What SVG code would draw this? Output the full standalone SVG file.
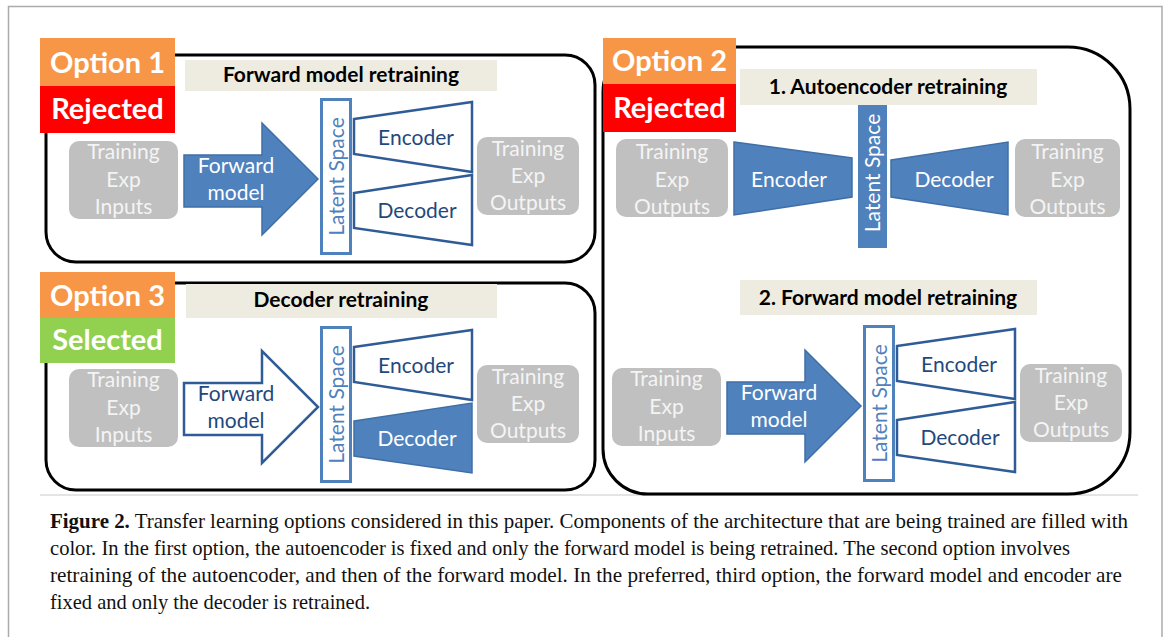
<svg xmlns="http://www.w3.org/2000/svg" width="1168" height="637" viewBox="0 0 1168 637">
<style>
.frame{fill:#fff;stroke:#ababab;stroke-width:1.5}
.panel{fill:none;stroke:#000;stroke-width:3}
.banner{fill:#EEECE1}
.btxt{font-family:Lato,"Liberation Sans",sans-serif;font-weight:bold;font-size:21px;fill:#000;text-anchor:middle}
.lab{font-family:Lato,"Liberation Sans",sans-serif;font-weight:bold;font-size:29px;fill:#fff;text-anchor:middle}
.gray{fill:#C0C0C0}
.gtxt{font-family:Lato,"Liberation Sans",sans-serif;font-size:21px;fill:#F4F4F4;text-anchor:middle}
.fill{fill:#4F81BD;stroke:#3F6FA6;stroke-width:1.5}
.wtxt{font-family:Lato,"Liberation Sans",sans-serif;font-size:21px;fill:#fff;text-anchor:middle}
.outl{fill:#fff;stroke:#2F5C97;stroke-width:2.5}
.ltbox{fill:#fff;stroke:#4F81BD;stroke-width:3}
.dtxt{font-family:Lato,"Liberation Sans",sans-serif;font-size:21px;fill:#1F497D;text-anchor:middle}
.ltxt{font-family:Lato,"Liberation Sans",sans-serif;font-size:21px;fill:#4F81BD;text-anchor:middle}
.cap{font-family:"Liberation Serif","Times New Roman",serif;font-size:21px;fill:#111}
</style>
<rect class="frame" x="8.5" y="6.5" width="1153.5" height="640"/>
<line x1="40" y1="495" x2="1138" y2="495" stroke="#e4e4e4" stroke-width="2"/>

<!-- Option 1 panel -->
<g id="opt1-panel"><rect class="panel" x="46" y="55" width="549" height="207" rx="30"/></g>
<g id="opt1-banner"><rect class="banner" x="185" y="60" width="312" height="31"/><text class="btxt" x="341" y="82">Forward model retraining</text></g>
<g id="opt1-inputs"><rect class="gray" x="69" y="141" width="109" height="78" rx="10"/>
<text class="gtxt" x="123.5" y="159">Training</text><text class="gtxt" x="123.5" y="186.5">Exp</text><text class="gtxt" x="123.5" y="213.5">Inputs</text></g>
<g id="opt1-forward"><polygon class="fill" points="184,155 262,155 262,123 318,179 262,235 262,207 184,207"/>
<text class="wtxt" x="236" y="173">Forward</text><text class="wtxt" x="236" y="200">model</text></g>
<g id="opt1-latent"><rect class="ltbox" x="321.5" y="99.5" width="29" height="154"/>
<text class="ltxt" transform="translate(343.5,176.5) rotate(-90)">Latent Space</text></g>
<g id="opt1-encoder"><polygon class="outl" points="354,119 472,102 472,172 354,154"/><text class="dtxt" x="416" y="145">Encoder</text></g>
<g id="opt1-decoder"><polygon class="outl" points="354,193 472,175 472,245 354,228"/><text class="dtxt" x="417" y="218">Decoder</text></g>
<g id="opt1-outputs"><rect class="gray" x="477" y="137" width="102" height="78" rx="10"/>
<text class="gtxt" x="528" y="156">Training</text><text class="gtxt" x="528" y="183">Exp</text><text class="gtxt" x="528" y="210">Outputs</text></g>
<g id="opt1-label"><rect x="40" y="38" width="135" height="48" fill="#F79646"/><text class="lab" x="107.5" y="73">Option 1</text>
<rect x="40" y="86" width="135" height="47" fill="#FF0000"/><text class="lab" x="107.5" y="119">Rejected</text></g>

<!-- Option 3 panel -->
<g id="opt3-panel"><rect class="panel" x="46" y="283" width="549" height="207" rx="30"/></g>
<g id="opt3-banner"><rect class="banner" x="186" y="284" width="311" height="34"/><text class="btxt" x="341" y="307">Decoder retraining</text></g>
<g id="opt3-inputs" transform="translate(0,228)"><rect class="gray" x="69" y="141" width="109" height="78" rx="10"/>
<text class="gtxt" x="123.5" y="159">Training</text><text class="gtxt" x="123.5" y="186.5">Exp</text><text class="gtxt" x="123.5" y="213.5">Inputs</text></g>
<g id="opt3-forward" transform="translate(0,228)"><polygon class="outl" points="184,155 262,155 262,123 318,179 262,235 262,207 184,207"/>
<text class="dtxt" x="236" y="173">Forward</text><text class="dtxt" x="236" y="200">model</text></g>
<g id="opt3-latent" transform="translate(0,228)"><rect class="ltbox" x="321.5" y="99.5" width="29" height="154"/>
<text class="ltxt" transform="translate(343.5,176.5) rotate(-90)">Latent Space</text></g>
<g id="opt3-encoder" transform="translate(0,228)"><polygon class="outl" points="354,119 472,102 472,172 354,154"/><text class="dtxt" x="416" y="145">Encoder</text></g>
<g id="opt3-decoder" transform="translate(0,228)"><polygon class="fill" points="354,193 472,175 472,245 354,228"/><text class="wtxt" x="417" y="218">Decoder</text></g>
<g id="opt3-outputs" transform="translate(0,228)"><rect class="gray" x="477" y="137" width="102" height="78" rx="10"/>
<text class="gtxt" x="528" y="156">Training</text><text class="gtxt" x="528" y="183">Exp</text><text class="gtxt" x="528" y="210">Outputs</text></g>
<g id="opt3-label"><rect x="40" y="272" width="135" height="46" fill="#F79646"/><text class="lab" x="107.5" y="306">Option 3</text>
<rect x="40" y="318" width="135" height="45" fill="#92D050"/><text class="lab" x="107.5" y="350">Selected</text></g>

<!-- Option 2 panel -->
<g id="opt2-panel"><path class="panel" d="M648 47 H1068 A62 62 0 0 1 1130 109 V432 A62 62 0 0 1 1068 494 H648 A45 45 0 0 1 603 449 V92 A45 45 0 0 1 648 47 Z"/></g>
<g id="opt2-banner1"><rect class="banner" x="740" y="69" width="297" height="36"/><text class="btxt" x="888" y="94">1. Autoencoder retraining</text></g>
<g id="opt2-outputs-in"><rect class="gray" x="616" y="139" width="112" height="78" rx="10"/>
<text class="gtxt" x="672" y="159">Training</text><text class="gtxt" x="672" y="186.5">Exp</text><text class="gtxt" x="672" y="214">Outputs</text></g>
<g id="opt2-encoder"><polygon class="fill" points="734,142 852,158 852,197 734,215"/><text class="wtxt" x="789" y="187">Encoder</text></g>
<g id="opt2-latent"><rect x="858" y="105" width="29" height="143" fill="#4F81BD"/>
<text class="wtxt" transform="translate(880,173) rotate(-90)">Latent Space</text></g>
<g id="opt2-decoder"><polygon class="fill" points="891,160 1008,142 1008,215 891,197"/><text class="wtxt" x="954" y="187">Decoder</text></g>
<g id="opt2-outputs"><rect class="gray" x="1015" y="139" width="105" height="78" rx="10"/>
<text class="gtxt" x="1067.5" y="159">Training</text><text class="gtxt" x="1067.5" y="186.5">Exp</text><text class="gtxt" x="1067.5" y="214">Outputs</text></g>
<g id="opt2-banner2"><rect class="banner" x="740" y="280" width="297" height="35"/><text class="btxt" x="888" y="305">2. Forward model retraining</text></g>
<g id="opt2-inputs" transform="translate(543,227)"><rect class="gray" x="69" y="141" width="109" height="78" rx="10"/>
<text class="gtxt" x="123.5" y="159">Training</text><text class="gtxt" x="123.5" y="186.5">Exp</text><text class="gtxt" x="123.5" y="213.5">Inputs</text></g>
<g id="opt2-forward" transform="translate(543,227)"><polygon class="fill" points="184,155 262,155 262,123 318,179 262,235 262,207 184,207"/>
<text class="wtxt" x="236" y="173">Forward</text><text class="wtxt" x="236" y="200">model</text></g>
<g id="opt2-latent2" transform="translate(543,227)"><rect class="ltbox" x="321.5" y="99.5" width="29" height="154"/>
<text class="ltxt" transform="translate(343.5,176.5) rotate(-90)">Latent Space</text></g>
<g id="opt2-encoder2" transform="translate(543,227)"><polygon class="outl" points="354,119 472,102 472,172 354,154"/><text class="dtxt" x="416" y="145">Encoder</text></g>
<g id="opt2-decoder2" transform="translate(543,227)"><polygon class="outl" points="354,193 472,175 472,245 354,228"/><text class="dtxt" x="417" y="218">Decoder</text></g>
<g id="opt2-outputs2" transform="translate(543,227)"><rect class="gray" x="477" y="137" width="102" height="78" rx="10"/>
<text class="gtxt" x="528" y="156">Training</text><text class="gtxt" x="528" y="183">Exp</text><text class="gtxt" x="528" y="210">Outputs</text></g>
<g id="opt2-label"><rect x="603" y="38" width="133" height="46" fill="#F79646"/><text class="lab" x="669.5" y="71">Option 2</text>
<rect x="603" y="84" width="133" height="48" fill="#FF0000"/><text class="lab" x="669.5" y="118">Rejected</text></g>

<g id="connectors"></g>

<g id="caption">
<text class="cap" x="50" y="528" textLength="1078" lengthAdjust="spacingAndGlyphs"><tspan font-weight="bold">Figure 2.</tspan> Transfer learning options considered in this paper. Components of the architecture that are being trained are filled with</text>
<text class="cap" x="50" y="555" textLength="1020" lengthAdjust="spacingAndGlyphs">color. In the first option, the autoencoder is fixed and only the forward model is being retrained. The second option involves</text>
<text class="cap" x="50" y="582" textLength="1072" lengthAdjust="spacingAndGlyphs">retraining of the autoencoder, and then of the forward model. In the preferred, third option, the forward model and encoder are</text>
<text class="cap" x="50" y="609" textLength="320" lengthAdjust="spacingAndGlyphs">fixed and only the decoder is retrained.</text>
</g>
</svg>
